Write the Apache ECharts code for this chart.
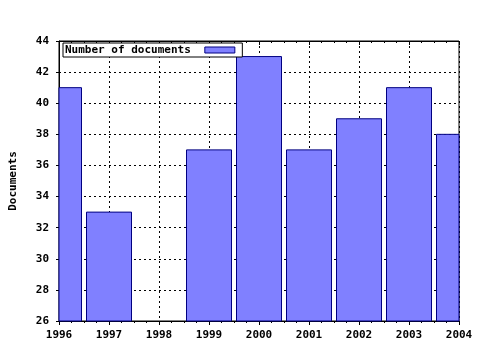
<!DOCTYPE html>
<html>
<head>
<meta charset="utf-8">
<script src="https://cdn.jsdelivr.net/npm/echarts@6/dist/echarts.min.js"></script>
<style>
  html, body { margin: 0; padding: 0; background: #fff; }
  #chart { width: 480px; height: 350px; }
</style>
</head>
<body>
<div id="chart"></div>
<script>
// data
const years = [1996, 1997, 1998, 1999, 2000, 2001, 2002, 2003, 2004];
const documents = [41, 33, null, 37, 43, 37, 39, 41, 38];
const seriesName = "Number of documents";
const yTicks = { min: 26, max: 44, step: 2 };

const FONT = "DejaVu Sans Mono";
const BAR_FILL = "#8080ff";
const BAR_EDGE = "#000080";
const dotted = { color: "#000", width: 1, type: [2, 3] };

const chart = echarts.init(document.getElementById("chart"), null, { renderer: "canvas" });

// bars drawn with a custom series so the end bars get cut at the plot edge
const renderBar = (params, api) => {
  const v = api.value(1);
  if (v == null || isNaN(v)) return null;
  const top = api.coord([api.value(0), v]);
  const base = api.coord([api.value(0), yTicks.min]);
  const w = 45;
  const rect = echarts.graphic.clipRectByRect(
    { x: top[0] - w / 2, y: top[1], width: w, height: base[1] - top[1] },
    {
      x: params.coordSys.x,
      y: params.coordSys.y,
      width: params.coordSys.width,
      height: params.coordSys.height,
    }
  );
  if (!rect) return null;
  return {
    type: "rect",
    shape: rect,
    style: { fill: BAR_FILL, stroke: BAR_EDGE, lineWidth: 1 },
  };
};

chart.setOption({
  backgroundColor: "#fff",
  animation: false,
  grid: {
    left: 57,
    right: 21,
    top: 41,
    bottom: 29,
    show: true,
    borderColor: "#000",
    borderWidth: 1,
  },
  legend: {
    data: [seriesName],
    left: 63,
    top: 43,
    orient: "horizontal",
    align: "right",
    icon: "rect",
    itemWidth: 30,
    itemHeight: 6,
    padding: [1, 7, 1, 2],
    backgroundColor: "#fff",
    borderColor: "#000",
    borderWidth: 1,
    borderRadius: 0,
    itemStyle: { color: BAR_FILL, borderColor: BAR_EDGE, borderWidth: 1 },
    textStyle: {
      fontFamily: FONT,
      fontWeight: "bold",
      fontSize: 11,
      color: "#000",
      lineHeight: 12,
      padding: [0, 9, 0, 0],
    },
  },
  xAxis: [
    {
      type: "value",
      min: years[0],
      max: years[years.length - 1],
      interval: 1,
      position: "bottom",
      axisLine: { show: true, lineStyle: { color: "#000" } },
      axisTick: { show: true, length: 4, lineStyle: { color: "#000" } },
      minorTick: { show: true, splitNumber: 4, length: 2, lineStyle: { color: "#000" } },
      splitLine: { show: true, lineStyle: dotted },
      axisLabel: {
        margin: 9,
        fontFamily: FONT,
        fontWeight: "bold",
        fontSize: 11,
        color: "#000",
        formatter: (v) => String(v),
      },
    },
    {
      type: "value",
      min: years[0],
      max: years[years.length - 1],
      interval: 1,
      position: "top",
      axisLine: { show: true, lineStyle: { color: "#000" } },
      axisTick: { show: true, inside: true, length: 4, lineStyle: { color: "#000" } },
      minorTick: { show: true, splitNumber: 4, length: 2, lineStyle: { color: "#000" } },
      splitLine: { show: false },
      axisLabel: { show: false },
    },
  ],
  yAxis: {
    type: "value",
    min: yTicks.min,
    max: yTicks.max,
    interval: yTicks.step,
    name: "Documents",
    nameLocation: "middle",
    nameGap: 40,
    nameRotate: 90,
    nameTextStyle: {
      fontFamily: FONT,
      fontWeight: "bold",
      fontSize: 11,
      color: "#000",
    },
    axisLine: { show: true, lineStyle: { color: "#000" } },
    axisTick: { show: true, length: 3, lineStyle: { color: "#000" } },
    splitLine: { show: true, lineStyle: dotted },
    axisLabel: {
      margin: 10,
      fontFamily: FONT,
      fontWeight: "bold",
      fontSize: 11,
      color: "#000",
    },
  },
  series: [
    {
      name: seriesName,
      type: "custom",
      xAxisIndex: 0,
      renderItem: renderBar,
      encode: { x: 0, y: 1 },
      itemStyle: { color: BAR_FILL, borderColor: BAR_EDGE, borderWidth: 1 },
      data: years.map((y, i) => [y, documents[i] == null ? "-" : documents[i]]),
    },
  ],
});
</script>
</body>
</html>
